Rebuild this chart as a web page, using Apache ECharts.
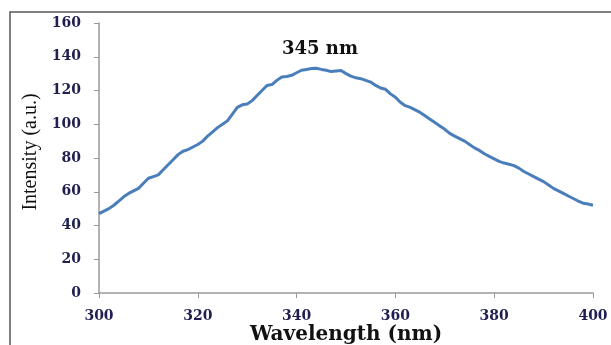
<!DOCTYPE html>
<html>
<head>
<meta charset="utf-8">
<script src="https://cdn.jsdelivr.net/npm/echarts@6/dist/echarts.min.js"></script>
<style>
  html, body { margin: 0; padding: 0; background: #fff; }
  #chart { width: 611px; height: 345px; }
</style>
</head>
<body>
<div id="chart"></div>
<script>
// wavelength (nm) and intensity (a.u.), 1 nm steps
const wavelength = [
    300, 301, 302, 303, 304, 305, 306, 307, 308, 309,
    310, 311, 312, 313, 314, 315, 316, 317, 318, 319,
    320, 321, 322, 323, 324, 325, 326, 327, 328, 329,
    330, 331, 332, 333, 334, 335, 336, 337, 338, 339,
    340, 341, 342, 343, 344, 345, 346, 347, 348, 349,
    350, 351, 352, 353, 354, 355, 356, 357, 358, 359,
    360, 361, 362, 363, 364, 365, 366, 367, 368, 369,
    370, 371, 372, 373, 374, 375, 376, 377, 378, 379,
    380, 381, 382, 383, 384, 385, 386, 387, 388, 389,
    390, 391, 392, 393, 394, 395, 396, 397, 398, 399,
    400
];
const intensity = [
    47, 48.5, 50, 52, 54.5, 57, 59, 60.5, 62, 65,
    68, 69, 70, 73, 76, 79, 82, 84, 85, 86.5,
    88, 90, 93, 95.5, 98, 100, 102, 106, 110, 111.5,
    112, 114, 117, 120, 123, 123.5, 126, 128, 128.3, 129,
    130.5, 132, 132.5, 133, 133.2, 132.5, 132, 131.2, 131.5, 131.8,
    130, 128.5, 127.5, 127, 126, 125, 123, 121.5, 120.7, 118,
    116, 113, 111, 110, 108.5, 107, 105, 103, 101, 99,
    97, 94.6, 93, 91.5, 90, 88, 86, 84.5, 82.5, 81,
    79.5, 78, 77, 76.3, 75.5, 74, 72, 70.5, 69, 67.5,
    66, 64, 62, 60.5, 59, 57.5, 56, 54.5, 53.2, 52.7,
    52
];
const peakLabel = '345 nm';

const wide = '"DejaVu Serif", serif';
const times = '"Liberation Serif", "Times New Roman", serif';
const chart = echarts.init(document.getElementById('chart'));

const option = {
    backgroundColor: '#fff',
    animation: false,
    grid: { left: 99, top: 23, right: 18, bottom: 52, outerBoundsMode: 'none' },
    graphic: [
        {
            type: 'rect',
            shape: { x: 10, y: 12, width: 640, height: 400 },
            style: { fill: 'none', stroke: '#555', lineWidth: 1.5 },
            silent: true
        },
        {
            type: 'text',
            left: 282, top: 40,
            style: { text: peakLabel, font: 'bold 18px ' + wide, fill: '#111' }
        }
    ],
    xAxis: {
        type: 'value',
        min: 300, max: 400, interval: 20,
        name: 'Wavelength (nm)',
        nameLocation: 'middle',
        nameGap: 32,
        nameMoveOverlap: false,
        nameTextStyle: { fontFamily: wide, fontWeight: 'bold', fontSize: 20, color: '#111' },
        axisLine: { show: true, lineStyle: { color: '#999', width: 1.5 } },
        axisTick: { show: true, length: 5, lineStyle: { color: '#999' } },
        splitLine: { show: false },
        axisLabel: { fontFamily: wide, fontWeight: 'bold', fontSize: 14, color: '#1f2050', margin: 16 }
    },
    yAxis: {
        type: 'value',
        min: 0, max: 160, interval: 20,
        name: 'Intensity (a.u.)',
        nameLocation: 'middle',
        nameGap: 58,
        nameMoveOverlap: false,
        nameRotate: 90,
        nameTextStyle: { fontFamily: times, fontSize: 20, color: '#111', padding: [0, 0, 0, 12] },
        axisLine: { show: true, lineStyle: { color: '#999', width: 1.5 } },
        axisTick: { show: true, length: 5, lineStyle: { color: '#999' } },
        splitLine: { show: false },
        axisLabel: { fontFamily: wide, fontWeight: 'bold', fontSize: 14, color: '#1f2050', margin: 18 }
    },
    series: [
        {
            type: 'line',
            data: wavelength.map((w, i) => [w, intensity[i]]),
            showSymbol: false,
            smooth: false,
            lineStyle: { color: '#4a7ebb', width: 3 }
        }
    ]
};

chart.setOption(option);
</script>
</body>
</html>
